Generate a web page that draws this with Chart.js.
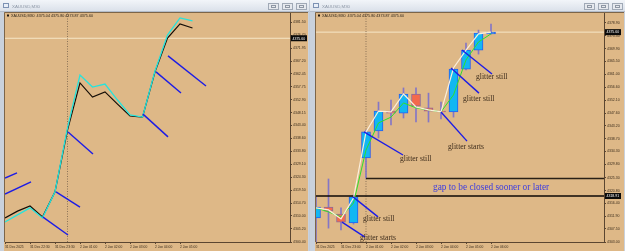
<!DOCTYPE html>
<html>
<head>
<meta charset="utf-8">
<title>XAUUSD M30</title>
<script src="https://cdn.jsdelivr.net/npm/chart.js@4.4.1/dist/chart.umd.min.js"></script>
<style>
  html, body { margin: 0; padding: 0; }
  body { width: 625px; height: 251px; overflow: hidden; background: #c3ccd8; position: relative; }
  canvas { position: absolute; top: 0; }
  #left { left: 0; }
  #right { left: 310px; }
</style>
</head>
<body>
<canvas id="left" width="309" height="251"></canvas>
<canvas id="right" width="315" height="251"></canvas>
<script>
// ---- shared ----
const symbolTitle = 'XAUUSD,M30';
const quoteLine = 'XAUUSD,M30  4375.04 4375.80 4373.87 4375.60';

// ---- left window (line view) ----
const leftTimeIdx = [0, 2, 4, 6, 8, 10, 12, 14];
const leftTimeLabels = ['31 Dec 2025', '31 Dec 22:30', '31 Dec 23:30', '2 Jan 01:00', '2 Jan 02:00', '2 Jan 03:00', '2 Jan 04:00', '2 Jan 05:00'];
const leftPriceTicks = [4300.40, 4305.20, 4310.00, 4314.70, 4319.50, 4324.30, 4329.10, 4333.80, 4338.60, 4343.40,
                        4348.15, 4352.90, 4357.75, 4362.45, 4367.20, 4371.95, 4376.70, 4381.50];
const leftBlack = [4309.3, 4311.8, 4313.7, 4309.6, 4318.9, 4341.7, 4359.1, 4353.9, 4355.8, 4351.3, 4346.9, 4346.5, 4363.2, 4375.7, 4380.9, 4379.4];
const leftCyan  = [4307.8, 4310.4, 4313.0, 4309.3, 4318.9, 4342.5, 4362.0, 4357.6, 4358.7, 4352.8, 4347.3, 4346.5, 4363.5, 4376.8, 4383.1, 4382.0];
// glitter strokes: [fromBar, fromPrice, toBar, toPrice]
const leftGlitter = [
  [0, 4324.0, 0.96, 4325.9],
  [0, 4318.1, 2.08, 4322.6],
  [3.04, 4309.6, 5.04, 4303.0],
  [4.08, 4318.9, 6.0, 4313.3],
  [5.04, 4341.0, 7.04, 4332.9],
  [11.04, 4347.6, 13.04, 4339.2],
  [12.08, 4363.2, 14.08, 4355.4],
  [13.04, 4369.1, 16.08, 4358.0]
];
const leftBid = 4375.60;
const leftCursor = 5;
const leftXMax = 22.8, leftYMin = 4300.40, leftYMax = 4384.92;

// ---- right window (candles) ----
const rightTimeIdx = [0, 2, 4, 6, 8, 10, 12, 14];
const rightTimeLabels = ['31 Dec 2025', '31 Dec 23:00', '2 Jan 01:00', '2 Jan 02:00', '2 Jan 03:00', '2 Jan 04:00', '2 Jan 05:00', '2 Jan 06:00'];
const rightPriceTicks = [4303.00, 4307.50, 4311.90, 4316.40, 4320.80, 4325.30, 4329.80, 4334.30, 4338.70, 4343.20,
                         4347.60, 4352.10, 4356.60, 4361.00, 4365.50, 4369.90, 4374.40, 4378.90];
const opens  = [4311.3, 4315.1, 4312.7, 4309.6, 4332.1, 4341.4, 4348.3, 4347.6, 4354.2, 4349.4, 4348.3, 4348.0, 4362.8, 4369.4, 4375.0];
const highs  = [4318.6, 4324.8, 4314.8, 4319.3, 4341.7, 4351.4, 4352.1, 4356.3, 4356.3, 4354.5, 4351.4, 4363.2, 4371.8, 4376.3, 4378.4];
const lows   = [4302.0, 4307.8, 4307.2, 4309.2, 4325.1, 4339.0, 4343.5, 4345.9, 4344.5, 4344.5, 4345.6, 4346.2, 4362.5, 4368.0, 4374.9];
const closes = [4315.1, 4313.7, 4309.9, 4318.6, 4341.1, 4348.3, 4347.6, 4354.2, 4350.0, 4348.3, 4348.0, 4362.8, 4369.4, 4375.3, 4375.6];
const fastMA = [4314.8, 4314.1, 4311.0, 4318.2, 4341.1, 4348.3, 4348.0, 4354.2, 4349.7, 4348.7, 4348.0, 4363.2, 4369.4, 4375.0, 4375.6];
const slowMA = [4314.8, 4313.4, 4311.7, 4316.5, 4334.8, 4344.2, 4346.2, 4351.1, 4349.4, 4348.7, 4348.0, 4353.9, 4366.0, 4372.2, 4375.0];
const rightGlitter = [
  [2.96, 4318.6, 4.96, 4311.7],
  [2.08, 4309.9, 3.92, 4304.7],
  [3.84, 4341.1, 6.96, 4333.1],
  [10.0, 4348.0, 12.08, 4337.9],
  [10.8, 4363.2, 13.04, 4354.5],
  [11.68, 4369.4, 14.08, 4361.1]
];
const notes = [
  ['glitter still', 12.8, 4360.1],
  ['glitter still', 11.76, 4352.5],
  ['glitter starts', 10.56, 4335.9],
  ['glitter still', 6.72, 4331.7],
  ['glitter still', 3.76, 4311.0],
  ['glitter starts', 3.52, 4304.4]
];
const gapNote = ['gap to be closed sooner or later', 9.36, 4321.7];
const gapLow = 4318.91, gapHigh = 4324.96, gapFrom = 4;
const rightBid = 4375.60;
const rightCursor = 4;
const rightXMax = 23.04, rightYMin = 4303.00, rightYMax = 4382.22;

const INK = '#3a2c1c';
const AXIS = '#5b4631';
const TAN = '#deb887';

// window frame, title bar, buttons and the quote line
function chrome(title, info) {
  return {
    id: 'chrome',
    beforeDraw(chart) {
      const { ctx, width, height, chartArea: a } = chart;
      ctx.save();
      ctx.fillStyle = '#c9d1dc';
      ctx.fillRect(0, 0, width, height);
      const g = ctx.createLinearGradient(0, 0, 0, 11);
      g.addColorStop(0, '#f2f5f9');
      g.addColorStop(1, '#dbe1ea');
      ctx.fillStyle = g;
      ctx.fillRect(0, 0, width, 11);
      ctx.fillStyle = '#b4bdca';
      ctx.fillRect(0, 11, width, 1);
      // icon + title
      ctx.strokeStyle = '#7d92b3';
      ctx.fillStyle = '#e8eef7';
      ctx.fillRect(3, 3, 6, 5);
      ctx.strokeRect(3.5, 3.5, 5, 4);
      ctx.fillStyle = '#8d97a6';
      ctx.font = '4.4px "Liberation Sans"';
      ctx.textBaseline = 'middle';
      ctx.fillText(title, 12, 6.5);
      // buttons
      for (let i = 0; i < 3; i++) {
        const bx = width - 13 - (2 - i) * 14;
        ctx.fillStyle = '#e6e9ee';
        ctx.fillRect(bx, 3, 11, 7);
        ctx.strokeStyle = '#a0a9b6';
        ctx.strokeRect(bx + 0.5, 3.5, 10, 6);
        ctx.strokeStyle = '#8e97a4';
        ctx.strokeRect(bx + 3.5, 5.5, 4, 2);
      }
      // tan chart surface + frame
      ctx.fillStyle = TAN;
      ctx.fillRect(a.left - 1, 12, width - a.left, height - 12);
      ctx.strokeStyle = '#7c6549';
      ctx.lineWidth = 1;
      ctx.beginPath();
      ctx.moveTo(a.left - 0.5, a.bottom);
      ctx.lineTo(a.left - 0.5, 12.5);
      ctx.lineTo(width - 1, 12.5);
      ctx.stroke();
      ctx.restore();
    },
    afterDraw(chart) {
      const { ctx, chartArea: a } = chart;
      ctx.save();
      ctx.fillStyle = '#1e1812';
      ctx.fillRect(a.left + 2, 14.5, 2, 2);
      ctx.font = '3.7px "Liberation Sans"';
      ctx.textBaseline = 'middle';
      ctx.fillStyle = '#2a2218';
      ctx.fillText(info, a.left + 6, 15.6);
      ctx.restore();
    }
  };
}

// black price tags on the right scale
function priceTags(prices) {
  return {
    id: 'tags',
    afterDraw(chart) {
      const { ctx } = chart;
      const y = chart.scales.y;
      ctx.save();
      ctx.font = '3.5px "Liberation Sans"';
      ctx.textBaseline = 'middle';
      prices.forEach(p => {
        const py = y.getPixelForValue(p);
        ctx.fillStyle = '#0b0b0b';
        ctx.fillRect(y.left + 1, py - 3, 16, 6);
        ctx.fillStyle = '#ffffff';
        ctx.fillText(p.toFixed(2), y.left + 2.5, py + 0.3);
      });
      ctx.restore();
    }
  };
}

function axes(o) {
  return {
    x: {
      type: 'linear', min: 0, max: o.xMax, offset: false,
      afterBuildTicks: s => { s.ticks = o.timeIdx.map(v => ({ value: v })); },
      afterFit: s => { s.height = 9; s.paddingLeft = 0; s.paddingRight = 0; },
      ticks: {
        align: 'start', padding: 1, autoSkip: false, maxRotation: 0, color: INK,
        font: { family: 'Liberation Sans', size: 3.3 },
        callback: (v, i) => o.timeLabels[i]
      },
      grid: { drawOnChartArea: false, offset: false, tickLength: 2, color: AXIS },
      border: { color: AXIS }
    },
    y: {
      position: 'right', min: o.yMin, max: o.yMax,
      afterBuildTicks: s => { s.ticks = o.yTicks.map(v => ({ value: v })); },
      afterFit: s => { s.width = o.yWidth; s.paddingTop = 0; s.paddingBottom = 0; },
      ticks: {
        padding: 1, autoSkip: false, color: INK,
        font: { family: 'Liberation Sans', size: 3.5 },
        callback: v => v.toFixed(2)
      },
      grid: { drawOnChartArea: false, tickLength: 2, color: AXIS },
      border: { color: AXIS }
    }
  };
}

const seg = (s, order) => ({
  type: 'line', data: [{ x: s[0], y: s[1] }, { x: s[2], y: s[3] }],
  borderColor: '#1c1ce6', borderWidth: 1.4, order: order
});
const pts = arr => arr.map((v, i) => ({ x: i, y: v }));

const baseOptions = {
  responsive: false,
  devicePixelRatio: 1,
  animation: false,
  events: [],
  elements: { point: { radius: 0 }, line: { tension: 0 } },
  plugins: { legend: { display: false }, tooltip: { enabled: false } }
};

// ---- left chart ----
new Chart(document.getElementById('left'), {
  type: 'line',
  data: {
    datasets: [
      ...leftGlitter.map(s => seg(s, 1)),
      { data: pts(leftCyan), borderColor: '#27e3dc', borderWidth: 1.3, order: 2 },
      { data: pts(leftBlack), borderColor: '#140d06', borderWidth: 1.2, order: 3 },
      { data: [{ x: leftCursor, y: leftYMin }, { x: leftCursor, y: leftYMax }], borderColor: '#8a7257', borderWidth: 1, borderDash: [1, 1.5], order: 7 },
      { data: [{ x: 0, y: leftBid }, { x: leftXMax, y: leftBid }], borderColor: '#f6e6c8', borderWidth: 1, order: 8 }
    ]
  },
  options: {
    ...baseOptions,
    layout: { padding: { left: 5, top: 13, right: 0, bottom: 0 } },
    scales: axes({ xMax: leftXMax, timeIdx: leftTimeIdx, timeLabels: leftTimeLabels,
                   yMin: leftYMin, yMax: leftYMax, yTicks: leftPriceTicks, yWidth: 19 })
  },
  plugins: [chrome(symbolTitle, quoteLine), priceTags([leftBid])]
});

// ---- right chart ----
const bull = closes.map((c, i) => c >= opens[i]);

const notesPlugin = {
  id: 'notes',
  afterDatasetsDraw(chart) {
    const { ctx, scales: { x, y } } = chart;
    ctx.save();
    ctx.textBaseline = 'middle';
    ctx.font = '7.6px "Liberation Serif"';
    ctx.fillStyle = '#3b2a1a';
    notes.forEach(n => ctx.fillText(n[0], x.getPixelForValue(n[1]), y.getPixelForValue(n[2])));
    ctx.font = '9.3px "Liberation Serif"';
    ctx.fillStyle = '#3c3ce0';
    ctx.fillText(gapNote[0], x.getPixelForValue(gapNote[1]), y.getPixelForValue(gapNote[2]));
    ctx.restore();
  }
};

new Chart(document.getElementById('right'), {
  type: 'bar',
  data: {
    datasets: [
      ...rightGlitter.map(s => seg(s, 1)),
      { type: 'line', data: pts(fastMA), borderColor: '#fbefdc', borderWidth: 1.2, order: 2 },
      { type: 'line', data: pts(slowMA), borderColor: '#2fe02a', borderWidth: 1, order: 3 },
      { type: 'line', data: [{ x: 0, y: gapLow }, { x: rightXMax, y: gapLow }], borderColor: '#0c0906', borderWidth: 1.6, order: 4 },
      { type: 'line', data: [{ x: gapFrom, y: gapHigh }, { x: rightXMax, y: gapHigh }], borderColor: '#2a2016', borderWidth: 1.3, order: 4 },
      {
        data: closes.map((c, i) => ({ x: i, y: [opens[i], c] })),
        backgroundColor: bull.map(b => b ? '#12b7f2' : '#f4694c'),
        borderColor: bull.map(b => b ? '#2a5cf0' : '#8e6a9a'),
        borderWidth: 1, borderSkipped: false, barThickness: 9, grouped: false, order: 5
      },
      {
        data: highs.map((h, i) => ({ x: i, y: [lows[i], h] })),
        backgroundColor: '#8476c6', borderWidth: 0, barThickness: 1, grouped: false, order: 6
      },
      { type: 'line', data: [{ x: rightCursor, y: rightYMin }, { x: rightCursor, y: rightYMax }], borderColor: '#8a7257', borderWidth: 1, borderDash: [1, 1.5], order: 7 },
      { type: 'line', data: [{ x: 0, y: rightBid }, { x: rightXMax, y: rightBid }], borderColor: '#f6e6c8', borderWidth: 1, order: 8 }
    ]
  },
  options: {
    ...baseOptions,
    layout: { padding: { left: 6, top: 13, right: 0, bottom: 0 } },
    scales: axes({ xMax: rightXMax, timeIdx: rightTimeIdx, timeLabels: rightTimeLabels,
                   yMin: rightYMin, yMax: rightYMax, yTicks: rightPriceTicks, yWidth: 21 })
  },
  plugins: [chrome(symbolTitle, quoteLine), priceTags([rightBid, gapLow]), notesPlugin]
});
</script>
</body>
</html>
